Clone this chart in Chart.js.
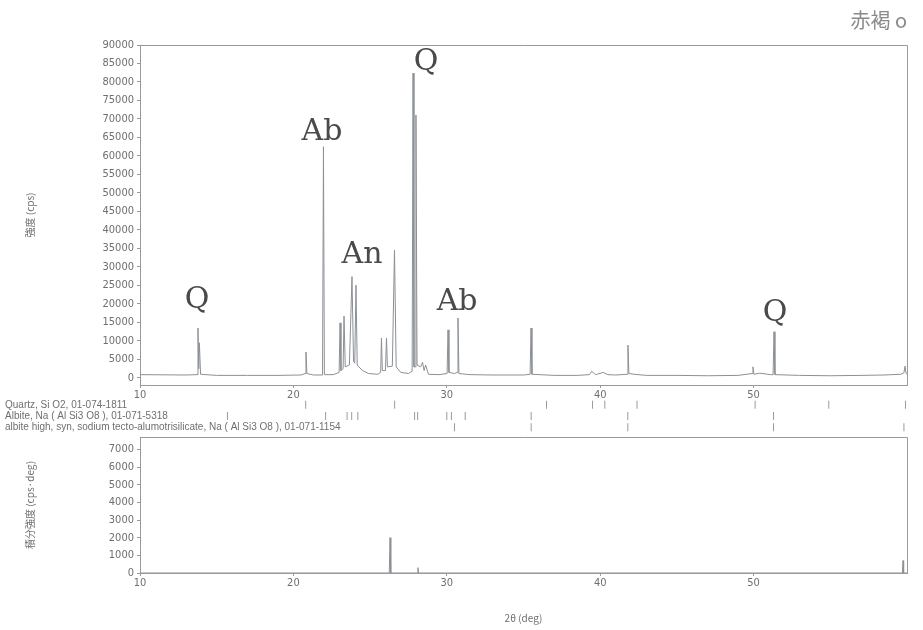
<!DOCTYPE html>
<html>
<head>
<meta charset="utf-8">
<script src="https://cdn.jsdelivr.net/npm/chart.js@4.4.1/dist/chart.umd.min.js"></script>
<style>
  html, body { margin: 0; padding: 0; background: #fff; }
  body { width: 923px; height: 630px; position: relative; overflow: hidden; }
  .panel { position: absolute; left: 0; width: 923px; }
</style>
</head>
<body>
<div class="panel" style="top:0;height:402px"><canvas id="pattern" width="923" height="402"></canvas></div>
<div class="panel" style="top:398px;height:36px"><canvas id="sticks" width="923" height="36"></canvas></div>
<div class="panel" style="top:430px;height:200px"><canvas id="integral" width="923" height="200"></canvas></div>
<script>
// XRD profile (2θ in deg, intensity in cps)
const profileTheta = [
  10.0, 11.5, 13.0, 13.72, 13.78, 13.83, 13.87, 13.95, 15.0, 17.0, 19.0, 20.5,
  20.76, 20.82, 20.88, 21.3, 21.90, 21.96, 22.02, 22.6, 22.98, 23.04, 23.10,
  23.24, 23.30, 23.38, 23.65, 23.82, 23.92, 24.0, 24.08, 24.16, 24.5, 24.9,
  25.5, 25.69, 25.74, 25.80, 26.0, 26.07, 26.13, 26.45, 26.59, 26.70, 27.0,
  27.5, 27.74, 27.80, 27.86, 27.93, 27.99, 28.06, 28.3, 28.42, 28.52, 28.62,
  28.8, 29.5, 30.02, 30.08, 30.14, 30.5, 30.68, 30.73, 30.79, 31.5, 33.0, 35.0,
  35.43, 35.49, 35.55, 37.0, 38.5, 39.3, 39.45, 39.7, 40.2, 40.5, 41.0, 41.75,
  41.81, 41.87, 42.2, 43.0, 45.0, 47.0, 49.0, 49.90, 49.96, 50.02, 50.4, 51.1,
  51.27, 51.33, 51.39, 53.0, 55.0, 57.0, 58.5, 59.6, 59.80, 59.87, 59.94, 60.0
];
const profileCps = [
  900, 850, 800, 900, 13500, 2500, 9500, 1000, 700, 700, 700, 800,
  1200, 7000, 1200, 800, 800, 62500, 900, 900, 1500, 14900, 2000,
  2500, 16700, 3000, 3500, 27400, 4500, 4000, 25100, 3500, 2000, 1200,
  1000, 1500, 10800, 2000, 2000, 10800, 3000, 3200, 34600, 3000, 1500,
  1200, 1800, 82400, 3000, 3000, 71100, 3500, 3000, 4200, 2000, 3500,
  1000, 900, 1200, 13000, 1500, 1200, 1500, 16200, 1200, 900, 800, 800,
  1000, 13500, 1000, 700, 700, 900, 1800, 900, 1500, 900, 800, 1000,
  8900, 1200, 1000, 700, 700, 600, 700, 1200, 3000, 1000, 1300, 900,
  900, 12500, 900, 700, 600, 700, 800, 1000, 1400, 3200, 1200, 1000
];

// Peak identification labels written on the scan
const peakNames = ["Q", "Ab", "An", "Q", "Ab", "Q"];
const peakTheta = [13.72, 21.86, 24.47, 28.64, 30.67, 51.40];
const peakCps   = [21000, 66500, 33200, 85400, 20500, 17600];

// Reference card stick positions (2θ)
const phaseNames = [
  "Quartz, Si O2, 01-074-1811",
  "Albite, Na ( Al Si3 O8 ), 01-071-5318",
  "albite high, syn, sodium tecto-alumotrisilicate, Na ( Al Si3 O8 ), 01-071-1154"
];
const quartzSticks = [20.8, 26.6, 36.5, 39.5, 40.3, 42.4, 50.1, 54.9, 59.9];
const albiteSticks = [15.7, 22.1, 23.5, 23.8, 24.2, 27.9, 28.1, 30.0, 30.3, 31.2, 35.5, 41.8, 51.3];
const albiteHighSticks = [30.5, 35.5, 41.8, 51.3, 59.8];

// Integrated intensity (cps·deg)
const integralTheta = [10.0, 26.25, 26.30, 26.35, 28.08, 28.12, 28.16, 59.70, 59.74, 59.78, 60.0];
const integralValue = [0, 0, 2000, 0, 0, 300, 0, 0, 700, 0, 0];

// Axis ticks
const thetaTicks = [10, 20, 30, 40, 50];
const cpsTicks = [0, 5000, 10000, 15000, 20000, 25000, 30000, 35000, 40000, 45000,
  50000, 55000, 60000, 65000, 70000, 75000, 80000, 85000, 90000];
const integralTicks = [0, 1000, 2000, 3000, 4000, 5000, 6000, 7000];

const INK = "#6f6f6f";
const AXIS = "#9a9a9a";
const TRACE = "#8b9096";
const tickFont = { family: "'DejaVu Sans Condensed', 'DejaVu Sans', sans-serif", size: 11 };
const titleFont = { family: "'Noto Sans CJK JP', 'DejaVu Sans', sans-serif", size: 10 };

const toPoints = (xs, ys) => xs.map((x, i) => ({ x: x, y: ys[i] }));

// Fixed axis boxes so the three panels line up
const fixWidth = (w) => (scale) => {
  scale.width = w;
  scale.paddingTop = 0;
  scale.paddingBottom = 0;
};
const fixHeight = (h) => (scale) => {
  scale.height = h;
  scale.paddingLeft = 0;
  scale.paddingRight = 0;
};

// Top and right edges of the plot box
const framePlugin = {
  id: "frame",
  afterDraw(chart) {
    const { ctx, chartArea } = chart;
    ctx.save();
    ctx.strokeStyle = AXIS;
    ctx.lineWidth = 1;
    ctx.beginPath();
    ctx.moveTo(chartArea.left, chartArea.top + 0.5);
    ctx.lineTo(chartArea.right + 0.5, chartArea.top + 0.5);
    ctx.lineTo(chartArea.right + 0.5, chartArea.bottom);
    ctx.stroke();
    ctx.restore();
  },
};

const peakLabelPlugin = {
  id: "peakLabels",
  afterDatasetsDraw(chart) {
    const { ctx, scales } = chart;
    ctx.save();
    ctx.font = "30px 'DejaVu Serif', serif";
    ctx.fillStyle = "#4a4a4a";
    ctx.textAlign = "center";
    ctx.textBaseline = "middle";
    peakNames.forEach((name, i) => {
      ctx.fillText(name, scales.x.getPixelForValue(peakTheta[i]), scales.y.getPixelForValue(peakCps[i]));
    });
    ctx.restore();
  },
};

const phaseNamePlugin = {
  id: "phaseNames",
  afterDraw(chart) {
    const { ctx, scales } = chart;
    ctx.save();
    ctx.font = "10px 'Liberation Sans', sans-serif";
    ctx.fillStyle = INK;
    ctx.textAlign = "left";
    ctx.textBaseline = "middle";
    phaseNames.forEach((name, i) => {
      ctx.fillText(name, 5, scales.y.getPixelForValue(i + 1));
    });
    ctx.restore();
  },
};

function xAxis(height, withTitle) {
  return {
    type: "linear",
    min: 10,
    max: 60,
    afterBuildTicks: (scale) => { scale.ticks = thetaTicks.map((v) => ({ value: v })); },
    afterFit: fixHeight(height),
    ticks: { color: INK, font: tickFont, padding: 1, maxRotation: 0, autoSkip: false,
      callback: (v) => String(v) },
    grid: { drawOnChartArea: false, tickLength: 3, color: AXIS },
    border: { color: AXIS },
    title: {
      display: withTitle,
      text: "2θ (deg)",
      color: INK,
      font: titleFont,
      padding: { top: 0, bottom: 6 },
    },
  };
}

function yAxis(min, max, tickValues, label) {
  return {
    min: min,
    max: max,
    afterBuildTicks: (scale) => { scale.ticks = tickValues.map((v) => ({ value: v })); },
    afterFit: fixWidth(120),
    ticks: { color: INK, font: tickFont, padding: 3, callback: (v) => String(v) },
    grid: { drawOnChartArea: false, tickLength: 3, color: AXIS },
    border: { color: AXIS },
    title: { display: true, text: label, color: INK, font: titleFont, padding: { top: 4, bottom: 0 } },
  };
}

const common = {
  responsive: false,
  animation: false,
  events: [],
};

new Chart(document.getElementById("pattern"), {
  type: "line",
  data: {
    datasets: [{
      data: toPoints(profileTheta, profileCps),
      borderColor: TRACE,
      borderWidth: 1,
      pointRadius: 0,
      tension: 0,
      fill: false,
    }],
  },
  options: {
    ...common,
    layout: { autoPadding: false, padding: { left: 20, right: 16, top: 0, bottom: 0 } },
    plugins: {
      legend: { display: false },
      tooltip: { enabled: false },
      title: {
        display: true,
        text: "赤褐 o",
        align: "end",
        color: "#8a8a8a",
        font: { family: "'Noto Sans CJK JP', sans-serif", size: 20, weight: "normal" },
        padding: { top: 8, bottom: 13 },
      },
    },
    scales: {
      x: xAxis(17, false),
      y: yAxis(-1900, 90000, cpsTicks, "強度 (cps)"),
    },
  },
  plugins: [framePlugin, peakLabelPlugin],
});

const stickStyle = {
  showLine: false,
  pointStyle: "line",
  rotation: 90,
  pointRadius: 4,
  borderColor: "#9a9a9a",
  borderWidth: 1,
};

new Chart(document.getElementById("sticks"), {
  type: "scatter",
  data: {
    datasets: [
      { ...stickStyle, data: quartzSticks.map((t) => ({ x: t, y: 1 })) },
      { ...stickStyle, data: albiteSticks.map((t) => ({ x: t, y: 2 })) },
      { ...stickStyle, data: albiteHighSticks.map((t) => ({ x: t, y: 3 })) },
    ],
  },
  options: {
    ...common,
    layout: { autoPadding: false, padding: { left: 140, right: 16, top: 0, bottom: 0 } },
    plugins: { legend: { display: false }, tooltip: { enabled: false } },
    scales: {
      x: { type: "linear", min: 10, max: 60, display: false },
      y: { min: 0.4, max: 3.6, reverse: true, display: false },
    },
  },
  plugins: [phaseNamePlugin],
});

new Chart(document.getElementById("integral"), {
  type: "scatter",
  data: {
    datasets: [{
      data: toPoints(integralTheta, integralValue),
      showLine: true,
      borderColor: TRACE,
      borderWidth: 1,
      pointRadius: 0,
      tension: 0,
    }],
  },
  options: {
    ...common,
    layout: { autoPadding: false, padding: { left: 20, right: 16, top: 7, bottom: 0 } },
    plugins: { legend: { display: false }, tooltip: { enabled: false } },
    scales: {
      x: xAxis(57, true),
      y: yAxis(0, 7700, integralTicks, "積分強度 (cps·deg)"),
    },
  },
  plugins: [framePlugin],
});
</script>
</body>
</html>
